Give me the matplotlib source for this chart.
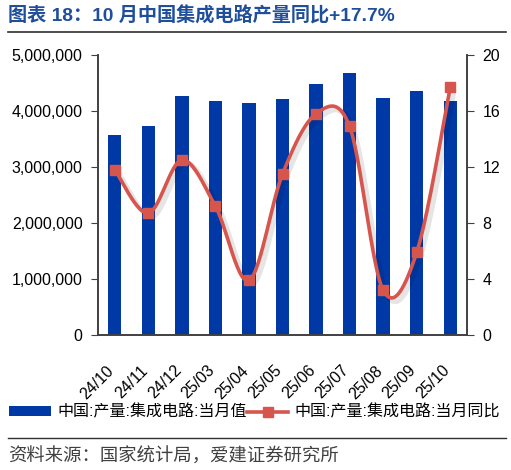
import numpy as np
import matplotlib
matplotlib.use('Agg')
import matplotlib.pyplot as plt
import matplotlib.patheffects as pe
import matplotlib.transforms as mtrans
from matplotlib.lines import Line2D
from matplotlib.patches import Patch
from matplotlib.ticker import FuncFormatter

plt.rcParams['font.family'] = ['Liberation Sans', 'Noto Sans CJK SC', 'DejaVu Sans']

# 数据
months = ['24/10', '24/11', '24/12', '25/03', '25/04', '25/05',
          '25/06', '25/07', '25/08', '25/09', '25/10']
output = [3580000, 3740000, 4270000, 4180000, 4150000, 4220000,
          4490000, 4670000, 4240000, 4360000, 4170000]
yoy = [11.8, 8.7, 12.5, 9.2, 3.9, 11.5, 15.8, 14.9, 3.2, 5.9, 17.7]

bar_color = '#0039A6'
line_color = '#D6564E'
axis_color = '#404040'


def smooth_curve(xs, ys, n=30):
    # 类似 Excel 的平滑线: 每段三次贝塞尔
    xs = np.asarray(xs, float)
    ys = np.asarray(ys, float)
    px, py = [], []
    for i in range(len(xs) - 1):
        x0, y0 = xs[max(i - 1, 0)], ys[max(i - 1, 0)]
        x1, y1 = xs[i], ys[i]
        x2, y2 = xs[i + 1], ys[i + 1]
        x3, y3 = xs[min(i + 2, len(xs) - 1)], ys[min(i + 2, len(xs) - 1)]
        c1x, c1y = x1 + (x2 - x0) / 6, y1 + (y2 - y0) / 6
        c2x, c2y = x2 - (x3 - x1) / 6, y2 - (y3 - y1) / 6
        t = np.linspace(0, 1, n)
        bx = (1-t)**3*x1 + 3*(1-t)**2*t*c1x + 3*(1-t)*t**2*c2x + t**3*x2
        by = (1-t)**3*y1 + 3*(1-t)**2*t*c1y + 3*(1-t)*t**2*c2y + t**3*y2
        px.extend(bx)
        py.extend(by)
    return np.array(px), np.array(py)


fig = plt.figure(figsize=(5.11, 4.70), dpi=100)
ax = fig.add_axes([0.1918, 0.2872, 0.7221, 0.5958])
ax2 = ax.twinx()

x = np.arange(len(months))
ax.bar(x, output, width=0.4, color=bar_color, zorder=2)
ax.set_ylim(0, 5000000)
ax.set_xlim(-0.5, len(months) - 0.5)
ax.set_yticks(np.arange(0, 5000001, 1000000))
ax.yaxis.set_major_formatter(FuncFormatter(lambda v, p: f'{int(v):,}'))
ax.set_xticks(x)
ax.set_xticklabels(months, rotation=45, ha='right', va='top', fontsize=11.5,
                   rotation_mode='anchor')
ax.tick_params(axis='x', length=0, pad=13)
ax.tick_params(axis='y', direction='out', length=5, color=axis_color, labelsize=11.5, pad=6)
shift = mtrans.ScaledTranslation(-6 / 72, -7 / 72, fig.dpi_scale_trans)
for lab in ax.get_xticklabels():
    lab.set_transform(lab.get_transform() + shift)

sx, sy = smooth_curve(x, yoy)
ax2.plot(sx, sy, color=line_color, lw=2.6, solid_capstyle='round',
         path_effects=[pe.SimpleLineShadow(offset=(2.5, -2.5), shadow_color='#000000', alpha=0.1, linewidth=4),
                       pe.Normal()])
ax2.plot(x, yoy, ls='none', marker='s', ms=7, color=line_color)
ax2.set_ylim(0, 20)
ax2.set_yticks(np.arange(0, 21, 4))
ax2.tick_params(axis='y', direction='out', length=5, color=axis_color, labelsize=11.5, pad=6)

for a in (ax, ax2):
    a.spines['top'].set_visible(False)
    for s in ('left', 'right', 'bottom'):
        a.spines[s].set_color(axis_color)
        a.spines[s].set_linewidth(1.2)

# 标题
fig.text(0.016, 0.967, '图表 18：10 月中国集成电路产量同比+17.7%', fontsize=13.8,
         fontweight='bold', color='#1F4E9A', va='center', ha='left',
         family=['Liberation Sans', 'Noto Sans CJK SC'])
fig.add_artist(Line2D([0.016, 0.99], [0.932, 0.932], color='#303030', lw=1.2))

# 图例
handles = [Patch(facecolor=bar_color, edgecolor='none'),
           Line2D([], [], color=line_color, lw=2.6, marker='s', ms=7)]
labels = ['中国:产量:集成电路:当月值', '中国:产量:集成电路:当月同比']
fig.legend(handles, labels, loc='center left', bbox_to_anchor=(0.012, 0.123),
           ncol=2, frameon=False, fontsize=11.5, handlelength=2.6,
           handleheight=0.6, handletextpad=0.4, columnspacing=0.0,
           borderaxespad=0, borderpad=0.2)

# 来源
fig.add_artist(Line2D([0.016, 0.99], [0.068, 0.068], color='#303030', lw=1.0))
fig.text(0.016, 0.028, '资料来源：国家统计局，爱建证券研究所', fontsize=13.2,
         color='#404040', va='center', ha='left')

fig.savefig('out.png', dpi=100)
